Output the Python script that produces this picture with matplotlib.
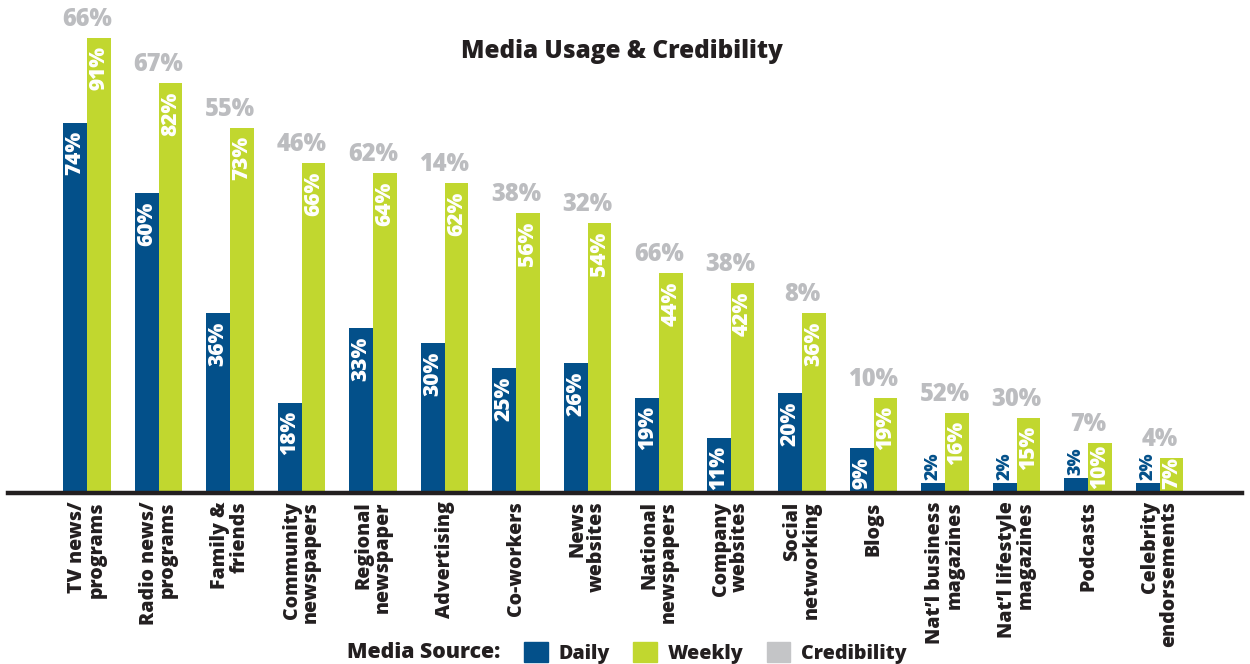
import numpy as np
import matplotlib
matplotlib.use("Agg")
import matplotlib.pyplot as plt
from matplotlib.patches import Patch

plt.rcParams['font.family'] = ['Open Sans', 'DejaVu Sans']

categories = ["TV news/\nprograms", "Radio news/\nprograms", "Family &\nfriends",
              "Community\nnewspapers", "Regional\nnewspaper", "Advertising",
              "Co-workers", "News\nwebsites", "National\nnewspapers",
              "Company\nwebsites", "Social\nnetworking", "Blogs",
              "Nat\u2019l business\nmagazines", "Nat\u2019l lifestyle\nmagazines",
              "Podcasts", "Celebrity\nendorsements"]
daily = [74, 60, 36, 18, 33, 30, 25, 26, 19, 11, 20, 9, 2, 2, 3, 2]
weekly = [91, 82, 73, 66, 64, 62, 56, 54, 44, 42, 36, 19, 16, 15, 10, 7]
credibility = [66, 67, 55, 46, 62, 14, 38, 32, 66, 38, 8, 10, 52, 30, 7, 4]

navy = "#03508A"
green = "#C1D72F"
grey = "#C4C5C7"
grey_text = "#BCBDC0"
dark = "#231F20"
bold = "heavy"

fig = plt.figure(figsize=(12.5, 6.64), dpi=100)
ax = fig.add_axes([8 / 1250, 1 - 493 / 664, 1234 / 1250, 493 / 664])

x = np.arange(len(categories))
w = 0.33
bd = ax.bar(x - w / 2, daily, w, color=navy)
bw = ax.bar(x + w / 2, weekly, w, color=green)

ax.set_xlim((8 - 87) / 71.5, (1242 - 87) / 71.5)
ax.set_ylim(0, 91 * 493 / 455)

def inner_labels(bars, vals, col):
    for b, v in zip(bars, vals):
        cx = b.get_x() + b.get_width() / 2
        if v >= 11:
            ax.annotate(f"{v}%", (cx, v), xytext=(0, -6), textcoords="offset points",
                        rotation=90, ha="center", va="top", color="white",
                        fontsize=15, fontweight=bold)
        elif v >= 6:
            ax.annotate(f"{v}%", (cx, 0), xytext=(0, 3), textcoords="offset points",
                        rotation=90, ha="center", va="bottom", color="white",
                        fontsize=15, fontweight=bold)
        else:
            # bar too short to hold its label: put it just above, in the bar colour
            ax.annotate(f"{v}%", (cx, v), xytext=(0, 2), textcoords="offset points",
                        rotation=90, ha="center", va="bottom", color=col,
                        fontsize=13, fontweight=bold)

inner_labels(bd, daily, navy)
inner_labels(bw, weekly, green)

for i, (wv, c) in enumerate(zip(weekly, credibility)):
    ax.annotate(f"{c}%", (i, wv), xytext=(0, 4), textcoords="offset points",
                ha="center", va="bottom", color=grey_text, fontsize=17, fontweight=bold)

for s in ["top", "right", "left"]:
    ax.spines[s].set_visible(False)
ax.spines["bottom"].set_linewidth(3.2)
ax.spines["bottom"].set_color(dark)
ax.set_yticks([])
ax.set_xticks(x)
ax.set_xticklabels(categories, rotation=90, fontsize=14, fontweight=bold, color=dark,
                   multialignment="right", linespacing=0.95)
ax.tick_params(axis="x", length=0, pad=6)
ax.patch.set_alpha(0)

fig.text(622 / 1250, 1 - 51 / 664, "Media Usage & Credibility", ha="center", va="center",
         fontsize=17.5, fontweight=bold, color=dark)

fig.text(347 / 1250, 1 - 652 / 664, "Media Source:", ha="left", va="center",
         fontsize=15.3, fontweight=bold, color=dark)
handles = [Patch(color=navy, label="Daily"), Patch(color=green, label="Weekly"),
           Patch(color=grey, label="Credibility")]
leg = fig.legend(handles=handles, loc="center left", bbox_to_anchor=(524 / 1250, 1 - 653 / 664),
                 ncol=3, frameon=False, prop={"size": 14.1, "weight": bold},
                 handlelength=1.2, handleheight=1.2, handletextpad=0.55, columnspacing=1.2,
                 borderpad=0, borderaxespad=0)
for t in leg.get_texts():
    t.set_color(dark)

fig.savefig("out.png", dpi=100)
